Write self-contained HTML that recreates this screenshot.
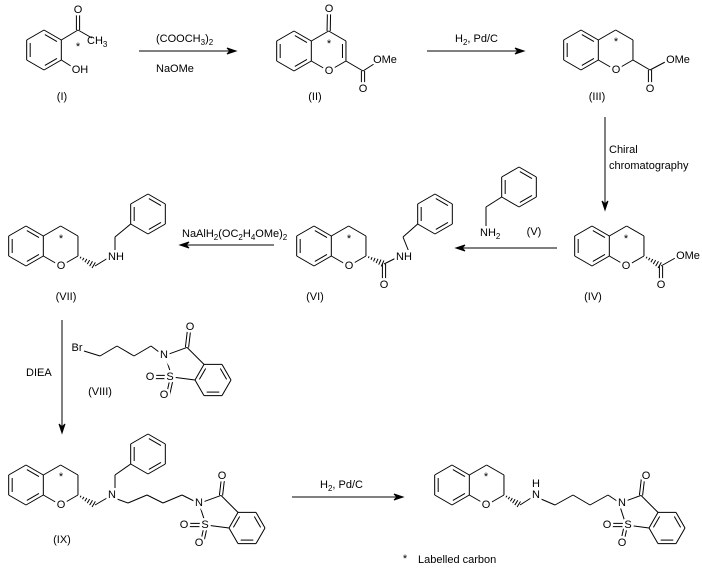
<!DOCTYPE html>
<html><head><meta charset="utf-8"><style>
html,body{margin:0;padding:0;background:#fff;}
svg{display:block;}
text{font-family:"Liberation Sans",Arial,sans-serif;font-size:11px;fill:#000;}
.l{stroke:#fff;stroke-width:5px;paint-order:stroke;text-anchor:middle;dominant-baseline:central;}
</style></head><body>
<svg id="s" width="702" height="583" viewBox="0 0 702 583" xmlns="http://www.w3.org/2000/svg">
<g id="g" stroke="#000" stroke-width="1" fill="none"></g>
<g id="t">
<text class="l" x="78" y="10">O</text>
<text x="87" y="44">CH<tspan dy="3" font-size="8">3</tspan></text>
<text class="l" x="80" y="70">OH</text>
<text class="l" x="78" y="47">*</text>
<text class="l" x="62" y="97">(I)</text>
<text x="156" y="42">(COOCH<tspan dy="3" font-size="8">3</tspan><tspan dy="-3">)</tspan><tspan dy="3" font-size="8">2</tspan></text>
<text x="156" y="72">NaOMe</text>
<text class="l" x="329" y="9">O</text>
<text class="l" x="329" y="71">O</text>
<text class="l" x="329" y="44">*</text>
<text class="l" x="385" y="60">OMe</text>
<text class="l" x="363" y="89">O</text>
<text class="l" x="315" y="97">(II)</text>
<text x="455" y="42">H<tspan dy="3" font-size="8">2</tspan><tspan dy="-3">, Pd/C</tspan></text>
<text class="l" x="616" y="70">O</text>
<text class="l" x="616" y="42">*</text>
<text class="l" x="678" y="60">OMe</text>
<text class="l" x="650" y="89">O</text>
<text class="l" x="597" y="97">(III)</text>
<text x="609" y="153">Chiral</text>
<text x="609" y="169">chromatography</text>
<text class="l" x="626" y="266">O</text>
<text class="l" x="626" y="239">*</text>
<text class="l" x="688" y="256">OMe</text>
<text class="l" x="661" y="285">O</text>
<text class="l" x="593" y="297">(IV)</text>
<text x="480" y="236">NH<tspan dy="3" font-size="8">2</tspan></text>
<text class="l" x="534" y="232">(V)</text>
<text class="l" x="349" y="266">O</text>
<text class="l" x="349" y="239">*</text>
<text class="l" x="404" y="257">NH</text>
<text class="l" x="384" y="285">O</text>
<text class="l" x="315" y="297">(VI)</text>
<text x="182" y="237">NaAlH<tspan dy="3" font-size="8">2</tspan><tspan dy="-3">(OC</tspan><tspan dy="3" font-size="8">2</tspan><tspan dy="-3">H</tspan><tspan dy="3" font-size="8">4</tspan><tspan dy="-3">OMe)</tspan><tspan dy="3" font-size="8">2</tspan></text>
<text class="l" x="61" y="266">O</text>
<text class="l" x="61" y="239">*</text>
<text class="l" x="116" y="257">NH</text>
<text class="l" x="66" y="297">(VII)</text>
<text x="26" y="376">DIEA</text>
<text class="l" x="77" y="348">Br</text>
<text class="l" x="164" y="355">N</text>
<text class="l" x="190" y="327">O</text>
<text class="l" x="170" y="377">S</text>
<text class="l" x="150" y="377">O</text>
<text class="l" x="164" y="395">O</text>
<text class="l" x="100" y="392">(VIII)</text>
<text class="l" x="61" y="505">O</text>
<text class="l" x="61" y="477">*</text>
<text class="l" x="112" y="495">N</text>
<text class="l" x="199" y="503">N</text>
<text class="l" x="222" y="476">O</text>
<text class="l" x="205" y="525">S</text>
<text class="l" x="184" y="525">O</text>
<text class="l" x="199" y="543">O</text>
<text class="l" x="62" y="540">(IX)</text>
<text x="320" y="488">H<tspan dy="3" font-size="8">2</tspan><tspan dy="-3">,  Pd/C</tspan></text>
<text class="l" x="486" y="505">O</text>
<text class="l" x="486" y="477">*</text>
<text class="l" x="536" y="495">N</text>
<text class="l" x="536" y="484">H</text>
<text class="l" x="622" y="503">N</text>
<text class="l" x="646" y="476">O</text>
<text class="l" x="628" y="525">S</text>
<text class="l" x="607" y="525">O</text>
<text class="l" x="622" y="543">O</text>
<text class="l" x="405" y="559">*</text>
<text x="418" y="563">Labelled carbon</text>
</g>
</svg>
<script>
var g=document.getElementById('g'),NS='http://www.w3.org/2000/svg';
function L(a,b,c,d){var e=document.createElementNS(NS,'line');e.setAttribute('x1',a);e.setAttribute('y1',b);e.setAttribute('x2',c);e.setAttribute('y2',d);g.appendChild(e);}
function P(pts){for(var i=0;i<pts.length-1;i++)L(pts[i][0],pts[i][1],pts[i+1][0],pts[i+1][1]);}
function inner(a,b,cx,cy){var mx=(a[0]+b[0])/2,my=(a[1]+b[1])/2,dx=cx-mx,dy=cy-my,d=Math.hypot(dx,dy),o=3.5;var ox=dx/d*o,oy=dy/d*o;var f=0.15;var ax=a[0]+(b[0]-a[0])*f,ay=a[1]+(b[1]-a[1])*f,bx=b[0]-(b[0]-a[0])*f,by=b[1]-(b[1]-a[1])*f;L(ax+ox,ay+oy,bx+ox,by+oy);}
function dblSide(a,b){var dx=b[0]-a[0],dy=b[1]-a[1],d=Math.hypot(dx,dy),nx=-dy/d*1.6,ny=dx/d*1.6;L(a[0]+nx,a[1]+ny,b[0]+nx,b[1]+ny);L(a[0]-nx,a[1]-ny,b[0]-nx,b[1]-ny);}
function ring(cx,cy,r,start,dbls){var v=[];for(var i=0;i<6;i++){var an=(start+60*i)*Math.PI/180;v.push([cx+r*Math.cos(an),cy+r*Math.sin(an)]);}for(i=0;i<6;i++)L(v[i][0],v[i][1],v[(i+1)%6][0],v[(i+1)%6][1]);dbls.forEach(function(k){inner(v[k],v[(k+1)%6],cx,cy);});return v;}
function hash(a,b){for(var i=1;i<=6;i++){var t=i/6.5,x=a[0]+(b[0]-a[0])*t,y=a[1]+(b[1]-a[1])*t,dx=b[0]-a[0],dy=b[1]-a[1],d=Math.hypot(dx,dy),w=0.5+t*3,nx=-dy/d*w,ny=dx/d*w;L(x+nx,y+ny,x-nx,y-ny);}}
function chroman(cx,cy,isII){var r=20;var b=ring(cx,cy,r,-90,[0,2,4]);var pc=cx+2*r*Math.cos(Math.PI/6);var v=[];for(var i=0;i<6;i++){var an=(-90+60*i)*Math.PI/180;v.push([pc+r*Math.cos(an),cy+r*Math.sin(an)]);}P([v[5],v[0],v[1],v[2],v[3],v[4]]);if(isII)inner(v[1],v[2],pc,cy);return v;}
function arrow(x1,y1,x2,y2){L(x1,y1,x2,y2);var dx=x2-x1,dy=y2-y1,d=Math.hypot(dx,dy),ux=dx/d,uy=dy/d;var p=document.createElementNS(NS,'polygon');p.setAttribute('points',[x2,y2,x2-ux*9-uy*3,y2-uy*9+ux*3,x2-ux*6,y2-uy*6,x2-ux*9+uy*3,y2-uy*9-ux*3].join(' '));p.setAttribute('fill','#000');g.appendChild(p);}
function sacch(cx,cy){var r=18;var v=ring(cx,cy,r,0,[5,1,3]);var c3a=v[4],c7a=v[3];var C3=[c3a[0]-17,c3a[1]-17],N=[c3a[0]-39,c3a[1]-9],S=[c7a[0]-23,c7a[1]-3];P([c3a,C3,N,S,c7a]);dblSide(C3,[C3[0]+2,C3[1]-17]);dblSide(S,[S[0]-20,S[1]]);dblSide(S,[S[0]-4,S[1]+18]);return N;}
var r1=ring(44,50,20,-90,[0,2,4]);L(r1[1][0],r1[1][1],78,30);dblSide([78,30],[78,13]);L(78,30,92,38);L(r1[2][0],r1[2][1],74,68);
arrow(139,51,236,51);
var v2=chroman(294,51,true);dblSide(v2[0],[329,13]);L(v2[2][0],v2[2][1],363,71);L(363,71,377,62);dblSide([363,71],[363,85]);
arrow(427,51,524,51);
var v3=chroman(581,50);L(v3[2][0],v3[2][1],650,70);L(650,70,667,61);dblSide([650,70],[650,85]);
arrow(605,117,605,210);
var v4=chroman(592,246);hash(v4[2],[661,266]);L(661,266,677,257);dblSide([661,266],[661,281]);
arrow(557,248,456,248);
var r5=ring(519,187,20,-90,[0,2,4]);P([r5[4],[486,207],[486,226]]);
var v6=chroman(314,246);hash(v6[2],[384,264]);L(384,264,398,257);dblSide([384,264],[384,280]);var r6=ring(435,214,20,-90,[0,2,4]);P([[409,252],[403,237],r6[4]]);
arrow(274,245,180,245);
var v7=chroman(26,246);hash(v7[2],[95,266]);L(95,266,108,258);var r7=ring(148,214,20,-90,[0,2,4]);P([[115,251],[115,237],r7[4]]);
arrow(62,320,62,433);
sacch(213,380);P([[84,351],[100,356],[117,346],[134,356],[151,346],[159,352]]);
var v9=chroman(26,485);hash(v9[2],[95,505]);L(95,505,107,498);var r9=ring(148,454,20,-90,[0,2,4]);P([[115,489],[115,475],r9[4]]);
sacch(247,528);P([[117,499],[128,503],[147,495],[163,503],[182,495],[194,501]]);
arrow(292,497,403,497);
var vf=chroman(452,485);hash(vf[2],[520,505]);L(520,505,531,498);sacch(667,528);P([[541,499],[555,505],[573,495],[590,505],[608,495],[617,501]]);
document.getElementById('s').appendChild(document.getElementById('t'));
</script>
</body></html>
